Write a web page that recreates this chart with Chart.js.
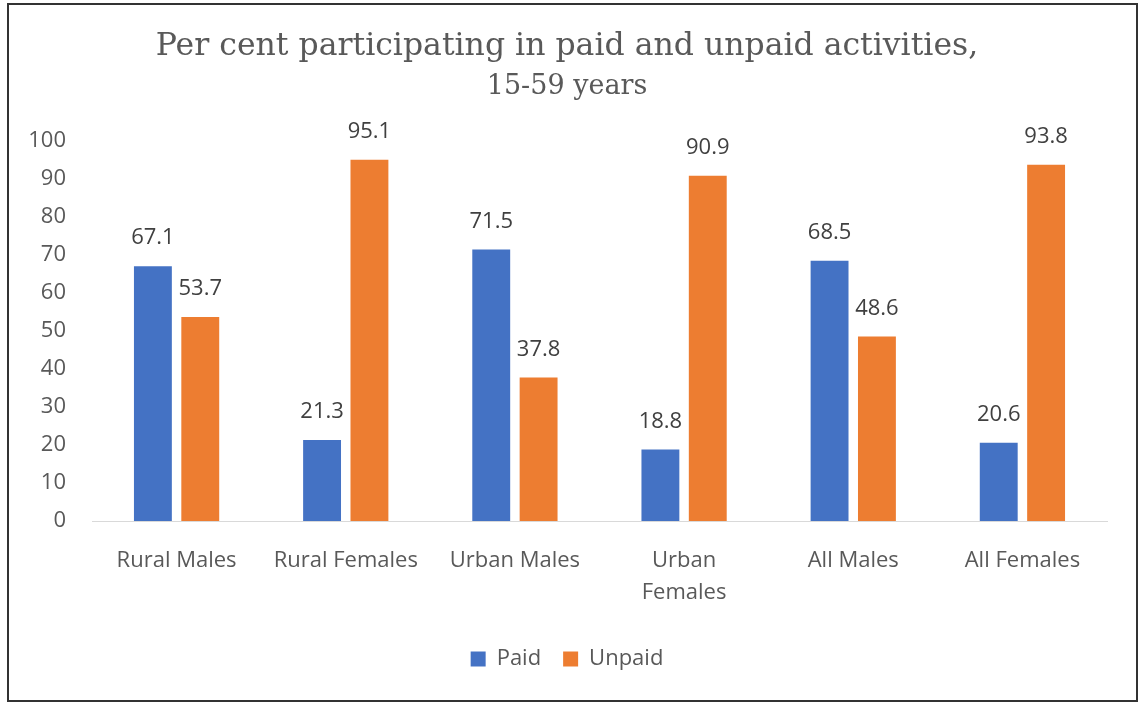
<!DOCTYPE html>
<html>
<head>
<meta charset="utf-8">
<script src="https://cdn.jsdelivr.net/npm/chart.js@4"></script>
<style>
  html, body { margin: 0; padding: 0; background: #fff; }
  #frame { position: absolute; left: 7px; top: 3px; width: 1127px; height: 695px; border: 2px solid #333; background: #fff; }
  #frame canvas { display: block; }
</style>
</head>
<body>
<div id="frame"><canvas id="chart" width="1127" height="695"></canvas></div>
<script>
  var categories = ['Rural Males', 'Rural Females', 'Urban Males', ['Urban', 'Females'], 'All Males', 'All Females'];
  var paid = [67.1, 21.3, 71.5, 18.8, 68.5, 20.6];
  var unpaid = [53.7, 95.1, 37.8, 90.9, 48.6, 93.8];
  var seriesNames = ['Paid', 'Unpaid'];

  var sans = '"Open Sans", "Noto Sans", sans-serif';
  var serif = '"DejaVu Serif", "Liberation Serif", serif';

  // numbers above every bar
  var valueLabels = {
    id: 'valueLabels',
    afterDatasetsDraw: function (chart) {
      var ctx = chart.ctx;
      ctx.save();
      ctx.font = '22px ' + sans;
      ctx.fillStyle = '#404040';
      ctx.textAlign = 'center';
      ctx.textBaseline = 'middle';
      chart.data.datasets.forEach(function (ds, i) {
        chart.getDatasetMeta(i).data.forEach(function (bar, j) {
          ctx.fillText(ds.data[j].toFixed(1), bar.x, bar.y - 28);
        });
      });
      ctx.restore();
    }
  };

  new Chart(document.getElementById('chart'), {
    type: 'bar',
    data: {
      labels: categories,
      datasets: [
        { label: seriesNames[0], data: paid, backgroundColor: '#4472C4' },
        { label: seriesNames[1], data: unpaid, backgroundColor: '#ED7D31' }
      ]
    },
    options: {
      responsive: false,
      animation: false,
      categoryPercentage: 0.56,
      barPercentage: 0.8,
      layout: { padding: { left: 18, right: 29, top: 0, bottom: 20 } },
      plugins: {
        title: {
          display: true,
          text: 'Per cent participating in paid and unpaid activities,',
          color: '#595959',
          font: { family: serif, size: 31.5, weight: 'normal' },
          padding: { top: 23, bottom: 5 }
        },
        subtitle: {
          display: true,
          text: '15-59 years',
          color: '#595959',
          font: { family: serif, size: 27, weight: 'normal' },
          padding: { top: 0, bottom: 38 }
        },
        legend: {
          position: 'bottom',
          labels: {
            boxWidth: 15, boxHeight: 15, padding: 22,
            color: '#595959',
            font: { family: sans, size: 22 }
          }
        },
        tooltip: { enabled: false }
      },
      scales: {
        x: {
          grid: { display: false, drawTicks: false },
          border: { display: true, color: '#d9d9d9', width: 1 },
          ticks: { color: '#595959', font: { family: sans, size: 22, lineHeight: 1.45 }, padding: 24, maxRotation: 0, autoSkip: false },
          afterFit: function (scale) { scale.height = 105; }
        },
        y: {
          min: 0, max: 100,
          grid: { display: false, drawTicks: false },
          border: { display: false },
          ticks: { stepSize: 10, color: '#595959', font: { family: sans, size: 22 }, padding: 26 },
          afterFit: function (scale) { scale.width = 65; }
        }
      }
    },
    plugins: [valueLabels]
  });
</script>
</body>
</html>
